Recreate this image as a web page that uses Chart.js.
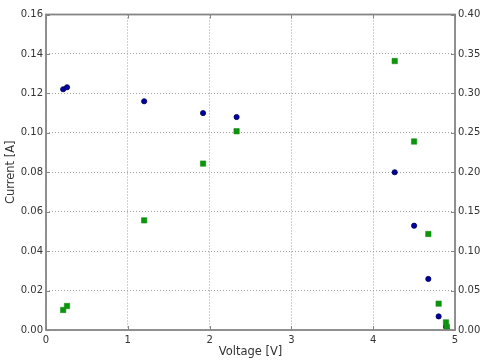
<!DOCTYPE html>
<html>
<head>
<meta charset="utf-8">
<script src="https://cdn.jsdelivr.net/npm/chart.js@4/dist/chart.umd.min.js"></script>
<style>
	html, body { margin: 0; padding: 0; background: #fff; overflow: hidden; }
	#wrap { width: 486px; height: 363px; overflow: hidden; }
	#wrap canvas { display: block; }
</style>
</head>
<body>
<div id="wrap"><canvas id="ivChart" width="498" height="363"></canvas></div>
<script>
const voltage = [0.21, 0.257, 1.20, 1.92, 2.33, 4.263, 4.50, 4.674, 4.80, 4.89, 4.90];
const current = [0.1221, 0.1231, 0.116, 0.110, 0.108, 0.080, 0.0529, 0.0259, 0.0069, 0.0017, 0.0006];
const power = [0.0254, 0.0304, 0.139, 0.211, 0.252, 0.341, 0.239, 0.1217, 0.0334, 0.0097, 0.0040];

const xTicks = [0, 1, 2, 3, 4, 5];
const currentTicks = [0, 0.02, 0.04, 0.06, 0.08, 0.10, 0.12, 0.14, 0.16];
const powerTicks = [0, 0.05, 0.10, 0.15, 0.20, 0.25, 0.30, 0.35, 0.40];

const tickFont = { family: 'DejaVu Sans', size: 10 };
const titleFont = { family: 'DejaVu Sans', size: 11.5 };
const frameColor = '#858585';

// frame + inward ticks like the matplotlib look
const framePlugin = {
	id: 'frame',
	afterDatasetsDraw(chart) {
		const { ctx, chartArea: a, scales } = chart;
		ctx.save();
		ctx.strokeStyle = frameColor;
		ctx.lineWidth = 1;
		xTicks.forEach((v) => {
			const px = Math.round(scales.x.getPixelForValue(v)) + 0.5;
			ctx.beginPath();
			ctx.moveTo(px, a.bottom); ctx.lineTo(px, a.bottom - 4);
			ctx.moveTo(px, a.top); ctx.lineTo(px, a.top + 4);
			ctx.stroke();
		});
		currentTicks.forEach((v) => {
			const py = Math.round(scales.y.getPixelForValue(v)) + 0.5;
			ctx.beginPath();
			ctx.moveTo(a.left, py); ctx.lineTo(a.left + 4, py);
			ctx.stroke();
		});
		powerTicks.forEach((v) => {
			const py = Math.round(scales.y1.getPixelForValue(v)) + 0.5;
			ctx.beginPath();
			ctx.moveTo(a.right, py); ctx.lineTo(a.right - 4, py);
			ctx.stroke();
		});
		ctx.lineWidth = 1.8;
		ctx.strokeRect(a.left, a.top, a.right - a.left, a.bottom - a.top);
		ctx.restore();
	},
};

const ctx = document.getElementById('ivChart').getContext('2d');
new Chart(ctx, {
	type: 'scatter',
	data: {
		datasets: [
			{
				label: 'Power',
				data: voltage.map((v, i) => ({ x: v, y: power[i] })),
				yAxisID: 'y1',
				pointStyle: 'rect',
				pointRadius: 3.8,
				backgroundColor: '#0a960a',
				borderColor: '#1f8f1f',
				borderWidth: 0.6,
			},
			{
				label: 'Current',
				data: voltage.map((v, i) => ({ x: v, y: current[i] })),
				yAxisID: 'y',
				pointStyle: 'circle',
				pointRadius: 2.6,
				backgroundColor: '#0000a8',
				borderColor: '#00004a',
				borderWidth: 0.8,
			},
		],
	},
	options: {
		responsive: false,
		animation: false,
		layout: { padding: { top: 14.5, left: 0, right: 0, bottom: 0 } },
		plugins: { legend: { display: false }, tooltip: { enabled: false } },
		scales: {
			x: {
				type: 'linear',
				min: 0,
				max: 5,
				afterBuildTicks: (s) => { s.ticks = xTicks.map((v) => ({ value: v })); },
				afterFit: (s) => { s.height = 33; },
				grid: { color: '#a0a0a0', drawTicks: false },
				border: { display: false, dash: [1, 2] },
				ticks: { font: tickFont, color: '#333', padding: 4, maxRotation: 0,
					callback: (v) => String(v) },
				title: { display: true, text: 'Voltage [V]', font: titleFont, color: '#333',
					padding: { top: 0, bottom: 4 } },
			},
			y: {
				type: 'linear',
				position: 'left',
				min: 0,
				max: 0.16,
				afterBuildTicks: (s) => { s.ticks = currentTicks.map((v) => ({ value: v })); },
				afterFit: (s) => { s.width = 46; },
				grid: { color: '#a0a0a0', drawTicks: false },
				border: { display: false, dash: [1, 2] },
				ticks: { font: tickFont, color: '#333', padding: 3, callback: (v) => v.toFixed(2) },
				title: { display: true, text: 'Current [A]', font: titleFont, color: '#333',
					padding: { top: 4, bottom: 0 } },
			},
			y1: {
				type: 'linear',
				position: 'right',
				min: 0,
				max: 0.4,
				afterBuildTicks: (s) => { s.ticks = powerTicks.map((v) => ({ value: v })); },
				afterFit: (s) => { s.width = 43; },
				grid: { display: false, drawTicks: false },
				border: { display: false },
				ticks: { font: tickFont, color: '#333', padding: 3, callback: (v) => v.toFixed(2) },
				title: { display: true, text: 'Power [W]', font: titleFont, color: '#333',
					padding: { top: 1, bottom: 0 } },
			},
		},
	},
	plugins: [framePlugin],
});
</script>
</body>
</html>
